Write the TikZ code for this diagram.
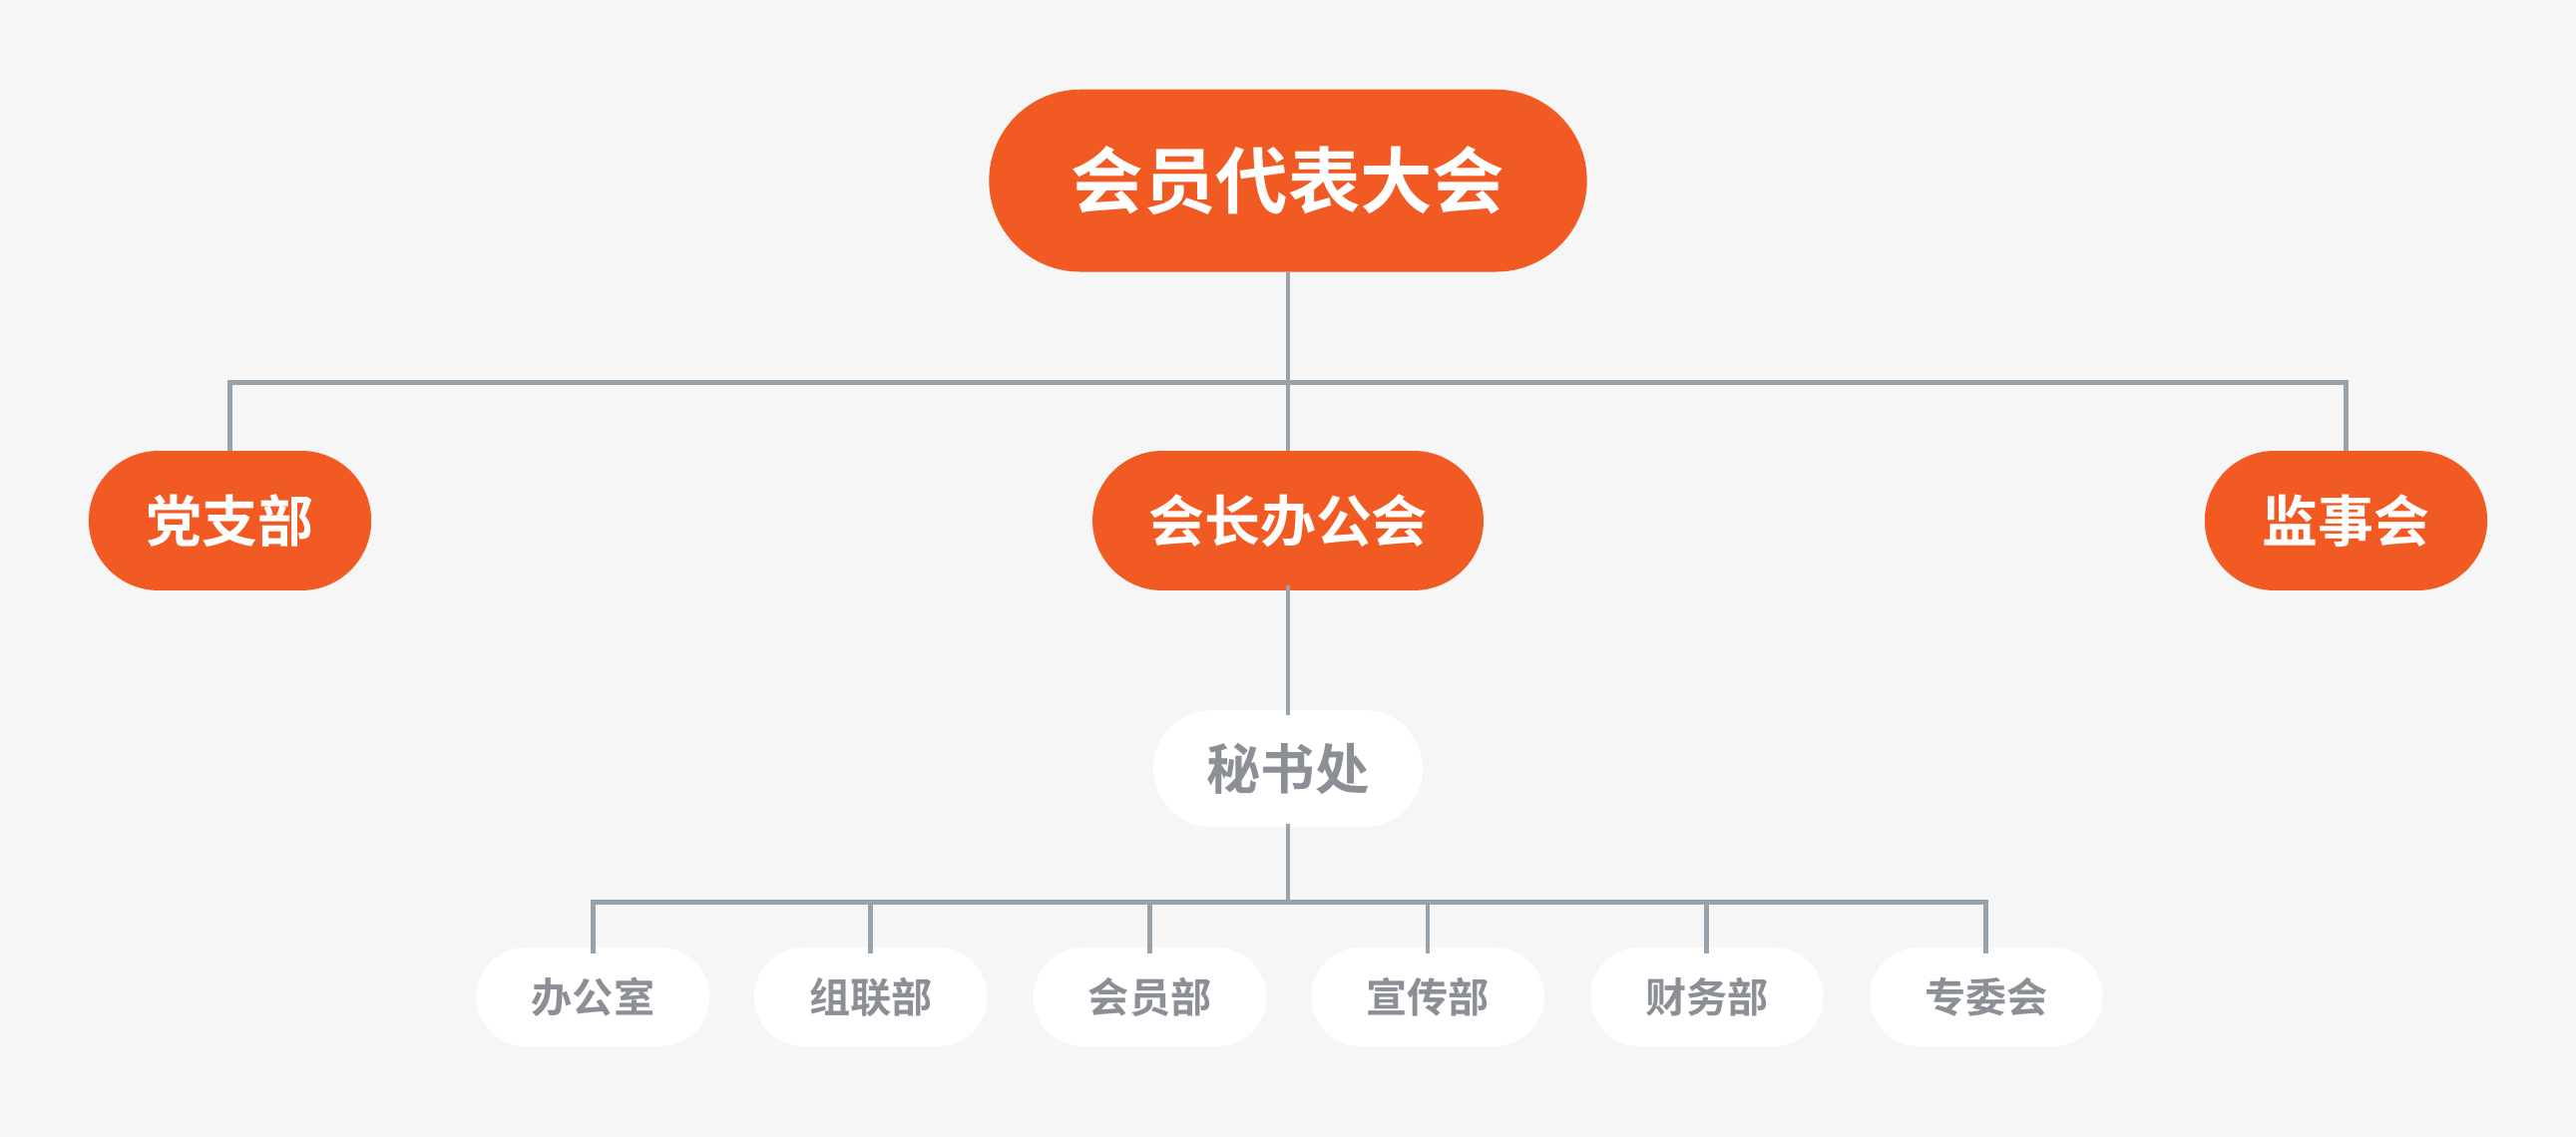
\documentclass[tikz,border=0pt]{standalone}
\usepackage{fontspec}
\newfontfamily\cjk{Noto Sans CJK SC Bold}
\definecolor{org}{HTML}{F25A24}
\definecolor{bg}{HTML}{F6F6F6}
\definecolor{ln}{HTML}{98A2AB}
\definecolor{tg}{HTML}{8C9096}
\begin{document}
\begin{tikzpicture}[x=1pt,y=-1pt,
  pill/.style={rounded rectangle,inner sep=0pt,font=\cjk},
  conn/.style={draw=ln,line width=3pt}]
\tikzset{rounded rectangle/.style={}}
\fill[bg] (0,0) rectangle (1568,692);
\useasboundingbox (0,0) rectangle (1568,692);
% helper
\newcommand\pillnode[7]{% name, cx, cy, w, h, fill, textcolor/size/text
  \fill[#6,rounded corners=#5*0.5] (#2-#4*0.5,#3-#5*0.5) rectangle (#2+#4*0.5,#3+#5*0.5);
  \node[inner sep=0pt,minimum width=#4,minimum height=#5] (#1) at (#2,#3) {#7};}
\pillnode{top}{784}{110}{364}{111}{org}{\cjk\fontsize{44}{44}\selectfont\color{white}会员代表大会}
\pillnode{dz}{140}{317}{172}{85}{org}{\cjk\fontsize{34}{34}\selectfont\color{white}党支部}
\pillnode{hz}{784}{317}{238}{85}{org}{\cjk\fontsize{34}{34}\selectfont\color{white}会长办公会}
\pillnode{js}{1428}{317}{172}{85}{org}{\cjk\fontsize{34}{34}\selectfont\color{white}监事会}
\pillnode{ms}{784}{468}{164}{71}{white}{\cjk\fontsize{33}{33}\selectfont\color{tg}秘书处}
\pillnode{b1}{361}{607}{142}{60}{white}{\cjk\fontsize{25}{25}\selectfont\color{tg}办公室}
\pillnode{b2}{530}{607}{142}{60}{white}{\cjk\fontsize{25}{25}\selectfont\color{tg}组联部}
\pillnode{b3}{700}{607}{142}{60}{white}{\cjk\fontsize{25}{25}\selectfont\color{tg}会员部}
\pillnode{b4}{869}{607}{142}{60}{white}{\cjk\fontsize{25}{25}\selectfont\color{tg}宣传部}
\pillnode{b5}{1039}{607}{142}{60}{white}{\cjk\fontsize{25}{25}\selectfont\color{tg}财务部}
\pillnode{b6}{1209}{607}{142}{60}{white}{\cjk\fontsize{25}{25}\selectfont\color{tg}专委会}
\coordinate (h1) at (784,233);
\draw[conn] (top.south) -- (hz.north);
\draw[conn] (dz.north) |- (h1) -| (js.north);
\draw[conn] ([yshift=3]hz.south) -- ([yshift=-3]ms.north);
\coordinate (h2) at (784,549);
\draw[conn] ([yshift=2]ms.south) -- (h2);
\draw[conn] ([yshift=-4]b1.north) |- (h2) -| ([yshift=-4]b6.north);
\foreach \b in {b2,b3,b4,b5} \draw[conn] ([yshift=-4]\b.north) -- (\b.north |- h2);
\end{tikzpicture}
\end{document}
